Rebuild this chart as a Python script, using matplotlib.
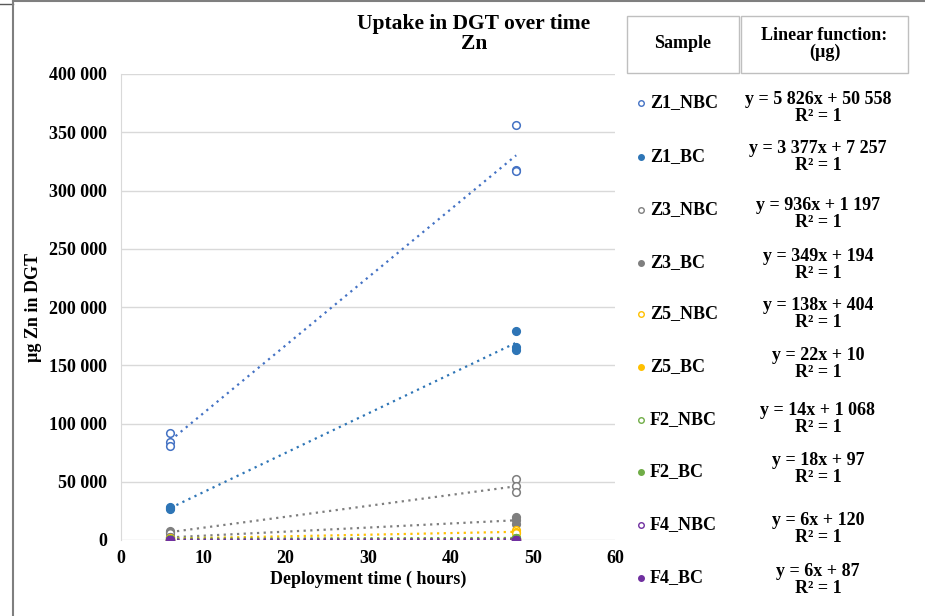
import matplotlib.pyplot as plt
import numpy as np
from matplotlib.patches import Rectangle
from matplotlib.lines import Line2D
from matplotlib.ticker import FuncFormatter

plt.rcParams['font.family'] = ['Liberation Serif', 'DejaVu Serif']
plt.rcParams['font.weight'] = 'bold'

# data
samples = ['Z1_NBC', 'Z1_BC', 'Z3_NBC', 'Z3_BC', 'Z5_NBC', 'Z5_BC',
           'F2_NBC', 'F2_BC', 'F4_NBC', 'F4_BC']
times = [6, 48]
z1_nbc = [[92000, 84000, 81000], [356000, 318000, 317000]]
z1_bc = [[28000, 27500, 27000], [179000, 166000, 163000]]
z3_nbc = [[7500, 6800, 6200], [52500, 46000, 41000]]
z3_bc = [[2500, 2300, 2100], [20000, 17000, 14000]]
z5_nbc = [[1300, 1200, 1200], [8500, 7000, 5600]]
z5_bc = [[150, 140, 140], [1100, 1050, 1050]]
f2_nbc = [[1200, 1150, 1100], [1800, 1700, 1700]]
f2_bc = [[220, 200, 190], [1000, 950, 930]]
f4_nbc = [[160, 155, 150], [420, 400, 400]]
f4_bc = [[130, 120, 120], [380, 375, 370]]
values = [z1_nbc, z1_bc, z3_nbc, z3_bc, z5_nbc, z5_bc, f2_nbc, f2_bc, f4_nbc, f4_bc]
slopes = [5826, 3377, 936, 349, 138, 22, 14, 18, 6, 6]
intercepts = [50558, 7257, 1197, 194, 404, 10, 1068, 97, 120, 87]
equations = ['y = 5 826x + 50 558', 'y = 3 377x + 7 257', 'y = 936x + 1 197',
             'y = 349x + 194', 'y = 138x + 404', 'y = 22x + 10',
             'y = 14x + 1 068', 'y = 18x + 97', 'y = 6x + 120', 'y = 6x + 87']

colors = ['#4472C4', '#2E75B6', '#7F7F7F', '#7F7F7F', '#FFC000', '#FFC000',
          '#70AD47', '#70AD47', '#7030A0', '#7030A0']
hollow = [True, False, True, False, True, False, True, False, True, False]

W, H = 925, 616
fig = plt.figure(figsize=(W / 100, H / 100), dpi=100)

def fx(px):
    return px / W

def fy(py):
    return 1 - py / H

ax = fig.add_axes([fx(121), fy(540), fx(615) - fx(121), fy(74) - fy(540)])
ax.set_xlim(0, 60)
ax.set_ylim(0, 400000)
ax.set_xticks(range(0, 61, 10))
ax.set_yticks(range(0, 400001, 50000))
ax.yaxis.set_major_formatter(FuncFormatter(lambda v, p: f'{int(v):,}'.replace(',', ' ')))
ax.grid(axis='y', color='#D9D9D9', linewidth=1)
ax.set_axisbelow(True)
for s in ['top', 'right', 'bottom']:
    ax.spines[s].set_visible(False)
ax.spines['left'].set_color('#D9D9D9')
ax.tick_params(axis='y', length=0, labelsize=13, pad=10)
ax.tick_params(axis='x', length=0, labelsize=13, pad=7)
for lab in ax.get_xticklabels() + ax.get_yticklabels():
    lab.set_fontweight('bold')

# trendlines first, then points
for i in range(len(samples)):
    xt = np.array(times, dtype=float)
    ax.plot(xt, slopes[i] * xt + intercepts[i], linestyle=(0, (1, 2)),
            color=colors[i], linewidth=1.6, zorder=2)
for i in range(len(samples)):
    for j, t in enumerate(times):
        ys = values[i][j]
        ax.plot([t] * len(ys), ys, linestyle='none', marker='o', markersize=5.5,
                markerfacecolor='white' if hollow[i] else colors[i],
                markeredgecolor=colors[i], markeredgewidth=1.1, zorder=3)

ax.set_xlabel('Deployment time ( hours)', fontsize=13, fontweight='bold', labelpad=3)
ax.set_ylabel('µg Zn in DGT', fontsize=13, fontweight='bold')
ax.yaxis.set_label_coords(-0.16, 0.5)

fig.text(fx(474), fy(34), 'Uptake in DGT over time\nZn', ha='center', va='center',
         fontsize=15.5, fontweight='bold', linespacing=1.05)

# table on the right
for x0, x1, txt in [(627, 739, 'Sample'), (741, 908, 'Linear function:\n(µg)')]:
    fig.patches.append(Rectangle((fx(x0), fy(73)), fx(x1) - fx(x0), fy(16) - fy(73),
                                 transform=fig.transFigure, fill=False,
                                 edgecolor='#BFBFBF', linewidth=1))
    fig.text(fx((x0 + x1) / 2), fy(44), txt, ha='center', va='center',
             fontsize=13, fontweight='bold', linespacing=1.0)

rows_y = [103, 157, 210, 263, 314, 367, 420, 472, 525, 578]
eq_y = [108, 157, 214, 265, 314, 364, 419, 469, 529, 580]
for i in range(len(samples)):
    fig.lines.append(Line2D([fx(641)], [fy(rows_y[i])], transform=fig.transFigure,
                            marker='o', markersize=4,
                            markerfacecolor='white' if hollow[i] else colors[i],
                            markeredgecolor=colors[i], markeredgewidth=1))
    fig.text(fx(650), fy(rows_y[i]), samples[i], ha='left', va='center',
             fontsize=13, fontweight='bold')
    fig.text(fx(818), fy(eq_y[i]), equations[i] + '\nR² = 1', ha='center', va='center',
             fontsize=13, fontweight='bold', linespacing=1.05)

# outer frame
fig.lines.append(Line2D([fx(0), fx(13)], [fy(4), fy(4)], transform=fig.transFigure,
                        color='#595959', linewidth=1))
fig.lines.append(Line2D([fx(13), fx(13)], [fy(1), fy(616)], transform=fig.transFigure,
                        color='#7F7F7F', linewidth=1.5))
fig.lines.append(Line2D([fx(13), fx(925)], [fy(1), fy(1)], transform=fig.transFigure,
                        color='#7F7F7F', linewidth=1.5))

fig.savefig('out.png', dpi=100)
